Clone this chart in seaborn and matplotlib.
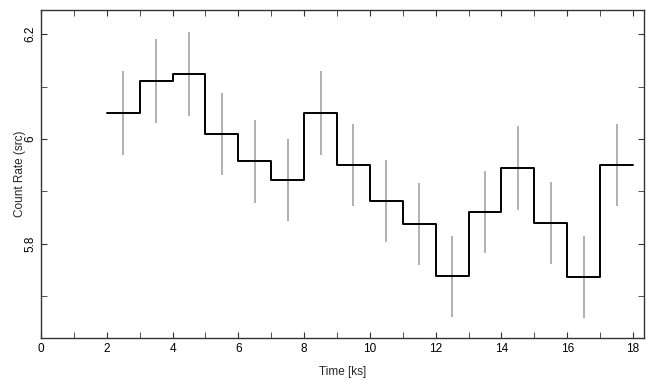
import numpy as np
import pandas as pd
import matplotlib
matplotlib.use("Agg")
import matplotlib.pyplot as plt
import seaborn as sns
from matplotlib.ticker import MultipleLocator

# light curve values
bin_edges = [2, 3, 4, 5, 6, 7, 8, 9, 10, 11, 12, 13, 14, 15, 16, 17, 18]
rate = [6.049, 6.111, 6.124, 6.009, 5.957, 5.922, 6.050, 5.950,
        5.882, 5.837, 5.738, 5.861, 5.944, 5.840, 5.736, 5.950]
rate_err = [0.080, 0.080, 0.080, 0.078, 0.079, 0.078, 0.080, 0.078,
            0.078, 0.078, 0.077, 0.078, 0.080, 0.078, 0.078, 0.078]

sns.set_style("ticks")
plt.rcParams['font.family'] = ['Liberation Sans', 'DejaVu Sans']

edges = np.array(bin_edges, dtype=float)
centers = (edges[:-1] + edges[1:]) / 2
df = pd.DataFrame({'t': edges, 'rate': rate + [rate[-1]]})

fig = plt.figure(figsize=(6.55, 3.85), dpi=100)
ax = fig.add_axes([0.0626, 0.122, 0.9204, 0.852])

# error bars first (grey), then the black step line
ax.errorbar(centers, rate, yerr=rate_err, fmt='none', ecolor='#b0b0b0',
            elinewidth=1.4, capsize=0)
sns.lineplot(data=df, x='t', y='rate', drawstyle='steps-post', color='black',
             linewidth=1.4, ax=ax)

ax.set_xlim(0, 18.33)
ax.set_ylim(5.62, 6.246)
ax.xaxis.set_major_locator(MultipleLocator(2))
ax.xaxis.set_minor_locator(MultipleLocator(1))
ax.yaxis.set_minor_locator(MultipleLocator(0.1))
ax.set_yticks([5.8, 6.0, 6.2])
ax.set_yticklabels(['5.8', '6', '6.2'], rotation=90, va='center')
ax.tick_params(which='both', direction='in', top=True, right=True,
               labelsize=8.5, colors='#333333', labelcolor='black', length=4)
for s in ax.spines.values():
    s.set_linewidth(1.0)
    s.set_color('#333333')

ax.set_xlabel('Time [ks]', fontsize=8.5, labelpad=8)
ax.set_ylabel('Count Rate (src)', fontsize=8.5, labelpad=-1)

fig.savefig('out.png', dpi=100)
